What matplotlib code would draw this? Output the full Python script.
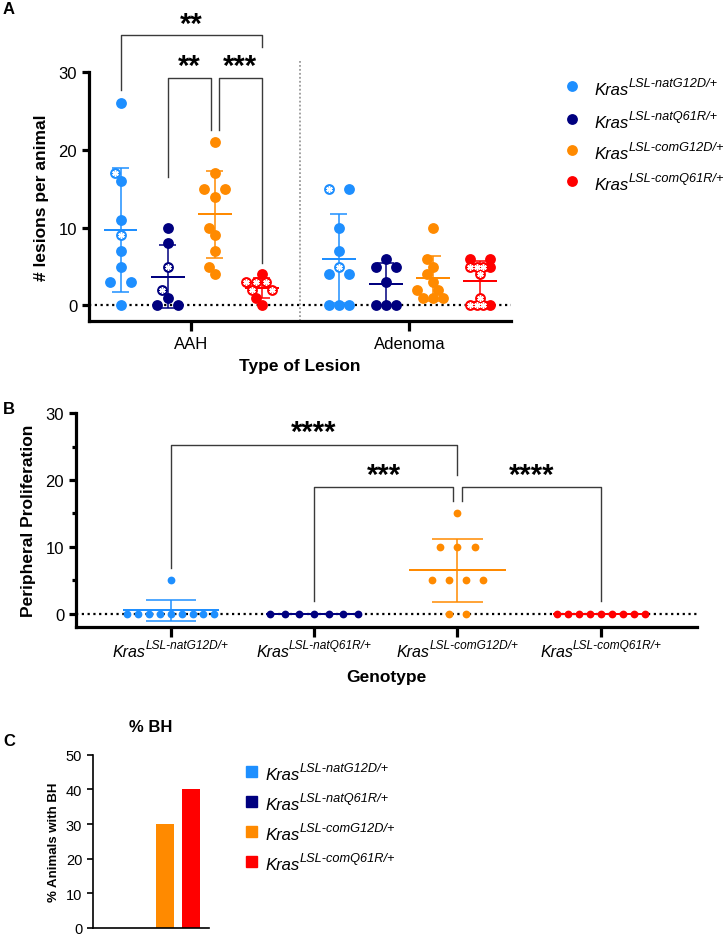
"""Kras allele comparison: lesion counts, peripheral proliferation and % BH."""

import matplotlib.pyplot as plt
import numpy as np
from matplotlib.lines import Line2D
from matplotlib.patches import Rectangle
from matplotlib.transforms import IdentityTransform

plt.rcParams["font.family"] = ["Liberation Sans", "DejaVu Sans"]

W, H = 728, 937

alleles = ["natG12D", "natQ61R", "comG12D", "comQ61R"]
colors = ["#1e8fff", "#00007f", "#ff8a00", "#ff0000"]

# Panel A: lesions per animal
lesion_types = ["AAH", "Adenoma"]
aah_counts = [
    [26, 17, 16, 11, 9, 7, 5, 3, 3, 0],
    [10, 8, 5, 2, 1, 0, 0],
    [21, 17, 15, 15, 14, 10, 9, 7, 5, 4],
    [4, 3, 3, 3, 2, 2, 1, 0],
]
aah_starred = [[17, 9], [5, 2], [], [3, 3, 3, 2, 2]]
adenoma_counts = [
    [15, 15, 10, 7, 5, 4, 4, 0, 0, 0],
    [6, 5, 5, 3, 0, 0, 0],
    [10, 6, 5, 4, 3, 2, 2, 1, 1, 1],
    [6, 6, 5, 5, 5, 5, 4, 1, 0, 0, 0, 0],
]
adenoma_starred = [[15, 5], [], [], [5, 5, 5, 4, 1, 0, 0, 0]]

# Panel B: peripheral proliferation
prolif_counts = [
    [5, 0, 0, 0, 0, 0, 0, 0, 0, 0],
    [0, 0, 0, 0, 0, 0, 0],
    [15, 10, 10, 10, 5, 5, 5, 5, 0, 0],
    [0, 0, 0, 0, 0, 0, 0, 0, 0],
]

# Panel C: % animals with BH
bh_percent = [0, 0, 30, 40]


def swarm_x(ax, x0, values, marker_px, max_step, row_width, tol=0.8):
    """Beeswarm-like x positions: equal values in centred rows, near values shifted."""
    vals = np.asarray(values, dtype=float)
    px_per_x = ax.transData.transform((1, 0))[0] - ax.transData.transform((0, 0))[0]
    ys = ax.transData.transform(np.column_stack([np.full(len(vals), x0), vals]))[:, 1]
    xs = np.zeros(len(vals))
    placed = []
    for v in sorted(set(vals)):
        idx = np.where(vals == v)[0]
        n = len(idx)
        step = max_step if n < 2 else min(max_step, row_width / (n - 1))
        base = (np.arange(n) - (n - 1) / 2) * step * px_per_x
        y = ys[idx[0]]
        best = base
        for k in [0, -1, 1, -2, 2]:
            cand = base + k * marker_px / 2
            if all(np.hypot(c - px, y - py) >= tol * marker_px
                   for c in cand for px, py in placed):
                best = cand
                break
        for i, c in zip(idx, best):
            xs[i] = x0 + c / px_per_x
            placed.append((c, y))
    return xs


def draw_group(ax, x0, values, starred, color, ms, max_step, row_width,
               mean_w, cap_w, lw):
    vals = np.asarray(values, dtype=float)
    marker_px = ms * fig.dpi / 72
    xs = swarm_x(ax, x0, vals, marker_px, max_step, row_width)
    ax.plot(xs, vals, "o", color=color, ms=ms, mec="none", zorder=3, clip_on=False)
    mean = vals.mean()
    sd = vals.std(ddof=1)
    kw = dict(color=color, lw=lw, zorder=4, solid_capstyle="butt", clip_on=False)
    ax.plot([x0, x0], [mean - sd, mean + sd], **kw)
    ax.plot([x0 - cap_w, x0 + cap_w], [mean + sd] * 2, **kw)
    ax.plot([x0 - cap_w, x0 + cap_w], [mean - sd] * 2, **kw)
    ax.plot([x0 - mean_w, x0 + mean_w], [mean] * 2, color=color, lw=lw * 1.3,
            zorder=4, solid_capstyle="butt", clip_on=False)
    used = set()
    sx, sy = [], []
    for s in starred:
        for i in np.argsort(xs):
            if vals[i] == s and i not in used:
                used.add(i)
                sx.append(xs[i])
                sy.append(vals[i])
                break
    if sx:
        ax.plot(sx, sy, ls="none", marker=(6, 2, 0), ms=ms * 0.6, mec="white",
                mew=1.1, zorder=5, clip_on=False)


def bracket(ax, x1, x2, y, y1, y2, label, label_y, label_x=None):
    ax.plot([x1, x1, x2, x2], [y1, y, y, y2], color="#3a3a3a", lw=1.0,
            clip_on=False, zorder=2)
    if label_x is None:
        label_x = (x1 + x2) / 2
    ax.text(label_x, label_y, label, ha="center", va="center", fontsize=21,
            fontweight="bold", clip_on=False)


def style_axes(ax, lw):
    for side in ["top", "right"]:
        ax.spines[side].set_visible(False)
    for side in ["left", "bottom"]:
        ax.spines[side].set_linewidth(lw)
    ax.tick_params(width=lw, length=5, labelsize=12)


renderer = None


def kras_label(x_px, y_img, allele, size, sup_size, rise, center=False):
    """Italic 'Kras' with italic superscript, anchored at a pixel baseline."""
    y_px = H - y_img
    base = fig.text(x_px, y_px, "Kras", fontsize=size, style="italic",
                    transform=IdentityTransform(), va="baseline")
    sup = fig.text(x_px, y_px + rise, f"LSL-{allele}/+", fontsize=sup_size,
                   style="italic", transform=IdentityTransform(), va="baseline")
    bw = base.get_window_extent(renderer).width
    sw = sup.get_window_extent(renderer).width
    start = x_px - (bw + sw) / 2 if center else x_px
    base.set_x(start)
    sup.set_x(start + bw)


fig = plt.figure(figsize=(W / 100, H / 100), dpi=100)
renderer = fig.canvas.get_renderer()

# ---------------- Panel A ----------------
axA = fig.add_axes([89 / W, 1 - 322 / H, (511 - 89) / W, (322 - 73) / H])
axA.set_xlim(-0.67, 8.3)
axA.set_ylim(-2, 30)
style_axes(axA, 2.3)
axA.set_yticks([0, 10, 20, 30])
adenoma_offset = 4.64
axA.set_xticks([1.5, 1.5 + adenoma_offset])
axA.set_xticklabels(lesion_types, fontsize=12)
axA.tick_params(axis="x", length=7)
axA.axhline(0, color="black", ls=(0, (1, 1.6)), lw=1.6, zorder=1)
sep = (3 + adenoma_offset) / 2
axA.plot([sep, sep], [-2, 31.4], color="#9a9a9a", ls=(0, (1, 1.2)), lw=1.3,
         clip_on=False, zorder=1)
for g in range(4):
    draw_group(axA, g, aah_counts[g], aah_starred[g], colors[g], 7.8,
               0.43, 0.43, 0.36, 0.18, 1.1)
    draw_group(axA, g + adenoma_offset, adenoma_counts[g], adenoma_starred[g],
               colors[g], 7.8, 0.43, 0.43, 0.36, 0.18, 1.1)
bracket(axA, 0, 3, 34.7, 27.7, 33.2, "**", 36.2)
bracket(axA, 1, 2 - 0.085, 29.2, 16.5, 22.5, "**", 30.8)
bracket(axA, 2 + 0.085, 3, 29.2, 22.5, 5.5, "***", 30.8)
axA.set_ylabel("# lesions per animal", fontsize=12.5, fontweight="bold",
               labelpad=7)
axA.set_xlabel("Type of Lesion", fontsize=12.5, fontweight="bold", labelpad=5)

legend_rows = [87, 120, 151, 182]
for g, yy in enumerate(legend_rows):
    fig.add_artist(Line2D([572 / W], [1 - yy / H], marker="o", ms=7.8,
                          color=colors[g], mec="none", transform=fig.transFigure))
    kras_label(594, yy + 8, alleles[g], 12, 9.2, 7.5)

# ---------------- Panel B ----------------
axB = fig.add_axes([76 / W, 1 - 628 / H, (697 - 76) / W, (628 - 414.3) / H])
axB.set_xlim(-0.66, 3.67)
axB.set_ylim(-2, 30)
style_axes(axB, 2.3)
axB.set_yticks([0, 10, 20, 30])
axB.set_yticks([5, 15, 25], minor=True)
axB.tick_params(axis="y", which="minor", width=2.3, length=3)
axB.set_xticks(range(4))
axB.set_xticklabels([""] * 4)
axB.tick_params(axis="x", length=7)
axB.axhline(0, color="black", ls=(0, (1, 1.6)), lw=1.6, zorder=1)
for g in range(4):
    draw_group(axB, g, prolif_counts[g], [], colors[g], 5.6,
               0.12, 0.61, 0.335, 0.175, 1.1)
bracket(axB, 0, 2, 25.25, 6.9, 20.7, "****", 27.2)
bracket(axB, 1, 2 - 0.028, 18.9, 1.95, 16.9, "***", 20.7)
bracket(axB, 2 + 0.028, 3, 18.9, 16.9, 1.95, "****", 20.7)
axB.set_ylabel("Peripheral Proliferation", fontsize=12.5, fontweight="bold",
               labelpad=7)
axB.set_xlabel("Genotype", fontsize=12.5, fontweight="bold", labelpad=20)
for g in range(4):
    tick_px = axB.transData.transform((g, 0))[0]
    kras_label(tick_px, 657, alleles[g], 11.5, 8.6, 7.5, center=True)

# ---------------- Panel C ----------------
axC = fig.add_axes([92.7 / W, 1 - 929 / H, (209 - 92.7) / W, (929 - 755.7) / H])
axC.set_xlim(-0.7, 3.66)
axC.set_ylim(0, 50)
style_axes(axC, 1.2)
axC.tick_params(labelsize=10.5, length=4)
axC.set_yticks(range(0, 51, 10))
axC.set_xticks([])
axC.bar(range(4), bh_percent, width=0.67, color=colors)
axC.set_ylabel("% Animals with BH", fontsize=9.5, fontweight="bold", labelpad=4)
fig.text(151 / W, 1 - 728 / H, "% BH", ha="center", va="center", fontsize=12,
         fontweight="bold")
c_rows = [772, 802, 832, 862]
for g, yy in enumerate(c_rows):
    fig.add_artist(Rectangle((246 / W, 1 - (yy + 5.5) / H), 11 / W, 11 / H,
                             color=colors[g], transform=fig.transFigure))
    kras_label(265, yy + 8, alleles[g], 12, 9.2, 7.5)

# panel letters
for letter, yy in [("A", 10), ("B", 410), ("C", 742)]:
    fig.text(3 / W, 1 - yy / H, letter, fontsize=12, fontweight="bold",
             va="center", ha="left")

fig.savefig("out.png", dpi=100)
